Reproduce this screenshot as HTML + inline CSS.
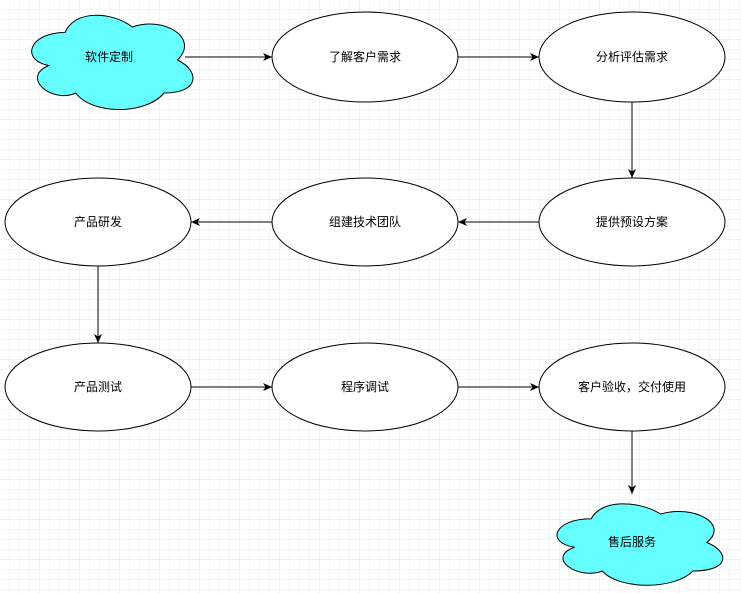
<!DOCTYPE html>
<html><head><meta charset="utf-8"><style>
html,body{margin:0;padding:0;background:#fff;}
svg{display:block;}
text{font-family:"Liberation Sans","Noto Sans CJK SC",sans-serif;font-size:12px;fill:#000;text-anchor:middle;dominant-baseline:central;}
</style></head><body>
<svg width="741" height="593" viewBox="0 0 741 593" xmlns="http://www.w3.org/2000/svg">
<defs>
<pattern id="g" width="10" height="10" patternUnits="userSpaceOnUse"><path d="M10 0V10H0" fill="none" stroke="#eeeeee" stroke-width="1"/></pattern>
<pattern id="G" width="40" height="40" patternUnits="userSpaceOnUse"><rect width="40" height="40" fill="url(#g)"/><path d="M40 0V40H0" fill="none" stroke="#e2e2e2" stroke-width="1"/></pattern>
<marker id="a" markerWidth="10" markerHeight="10" refX="9" refY="5" orient="auto" markerUnits="userSpaceOnUse"><path d="M0,1 L9,5 L0,9 L2.5,5 Z" fill="#000"/></marker>
</defs>
<rect width="741" height="593" fill="url(#G)"/>
<!-- clouds -->
<g stroke="#000" stroke-width="1" fill="#66ffff">
<path transform="translate(20,5) scale(180,110)" vector-effect="non-scaling-stroke" d="M0.25,0.25 C0.05,0.25 0,0.5 0.16,0.55 C0,0.66 0.18,0.9 0.31,0.8 C0.4,1 0.7,1 0.8,0.8 C1,0.8 1,0.6 0.875,0.5 C1,0.3 0.8,0.1 0.625,0.2 C0.5,0.05 0.3,0.05 0.25,0.25 Z"/>
<path transform="translate(545,495) scale(185,95)" vector-effect="non-scaling-stroke" d="M0.25,0.25 C0.05,0.25 0,0.5 0.16,0.55 C0,0.66 0.18,0.9 0.31,0.8 C0.4,1 0.7,1 0.8,0.8 C1,0.8 1,0.6 0.875,0.5 C1,0.3 0.8,0.1 0.625,0.2 C0.5,0.05 0.3,0.05 0.25,0.25 Z"/>
</g>
<g stroke="#000" stroke-width="1" fill="#fff">
<ellipse cx="365" cy="57" rx="93" ry="45"/>
<ellipse cx="632" cy="57" rx="93" ry="45"/>
<ellipse cx="98" cy="222" rx="93" ry="44"/>
<ellipse cx="365" cy="222" rx="93" ry="44"/>
<ellipse cx="632" cy="222" rx="93" ry="44"/>
<ellipse cx="98" cy="387" rx="93" ry="44"/>
<ellipse cx="365" cy="387" rx="93" ry="44"/>
<ellipse cx="632" cy="387" rx="93" ry="44"/>
</g>
<g stroke="#000" stroke-width="1" marker-end="url(#a)">
<line x1="185" y1="57" x2="272" y2="57"/>
<line x1="458" y1="57" x2="539" y2="57"/>
<line x1="632" y1="102" x2="632" y2="178"/>
<line x1="539" y1="222" x2="458" y2="222"/>
<line x1="272" y1="222" x2="191" y2="222"/>
<line x1="98" y1="266" x2="98" y2="343"/>
<line x1="191" y1="387" x2="272" y2="387"/>
<line x1="458" y1="387" x2="539" y2="387"/>
<line x1="632" y1="431" x2="632" y2="494"/>
</g>
<text x="109" y="57">软件定制</text>
<text x="365" y="57">了解客户需求</text>
<text x="632" y="57">分析评估需求</text>
<text x="98" y="222">产品研发</text>
<text x="365" y="222">组建技术团队</text>
<text x="632" y="222">提供预设方案</text>
<text x="98" y="387">产品测试</text>
<text x="365" y="387">程序调试</text>
<text x="632" y="387">客户验收，交付使用</text>
<text x="632" y="542">售后服务</text>
</svg>
</body></html>
